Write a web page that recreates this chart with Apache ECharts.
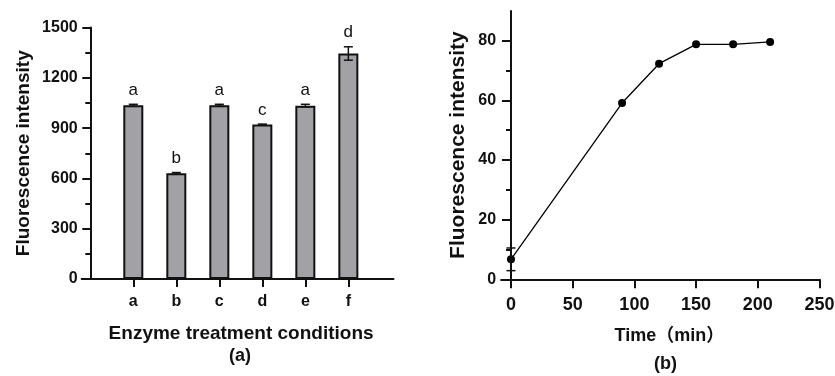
<!DOCTYPE html>
<html lang="en">
<head>
<meta charset="UTF-8">
<title>Fluorescence intensity</title>
<script src="https://cdn.jsdelivr.net/npm/echarts@6/dist/echarts.min.js"></script>
<style>
  html, body { margin: 0; padding: 0; background: #fff; }
  #chart { width: 835px; height: 376px; }
</style>
</head>
<body>
<div id="chart"></div>
<script>
// (a) enzyme treatment conditions
var conditions = ['a', 'b', 'c', 'd', 'e', 'f'];
var intensityA = [1036, 630, 1036, 921, 1034, 1345];
var errA = [6, 5, 6, 3, 8, 40];
var letters = ['a', 'b', 'a', 'c', 'a', 'd'];
var yTicksA = [0, 300, 600, 900, 1200, 1500];

// (b) time course
var timeMin = [0, 90, 120, 150, 180, 210];
var intensityB = [6.7, 59.1, 72.3, 78.8, 78.8, 79.6];
var errB = [3.8, 0, 0, 0, 0, 0];
var xTicksB = [0, 50, 100, 150, 200, 250];
var yTicksB = [0, 20, 40, 60, 80];
var yMinorB = [10, 30, 50, 70];

var FONT = "'Liberation Sans', Arial, 'Noto Sans CJK SC', sans-serif";
var INK = '#111';

var chart = echarts.init(document.getElementById('chart'));

// layout of the two panels
var gA = { left: 81.7, top: 27.5, width: 311.8, height: 251.5 };
var gB = { left: 501.1, top: 10.9, width: 318.4, height: 268.4 };
var xMinB = -8, xMaxB = 250;
var shiftB = -(0 - xMinB) * gB.width / (xMaxB - xMinB);

var barData = [], errDataA = [];
for (var i = 0; i < conditions.length; i++) {
  barData.push([i + 1, intensityA[i]]);
  errDataA.push([i + 1, intensityA[i], errA[i]]);
}
var lineData = [], errDataB = [];
for (var j = 0; j < timeMin.length; j++) {
  lineData.push([timeMin[j], intensityB[j]]);
  if (errB[j] > 0) errDataB.push([timeMin[j], intensityB[j], errB[j]]);
}

function errBar(withLetter, cap) {
  return function (params, api) {
    var x = api.value(0), y = api.value(1), e = api.value(2);
    var hi = api.coord([x, y + e]);
    var lo = api.coord([x, y - e]);
    var st = { stroke: INK, lineWidth: 1.5 };
    var kids = [];
    if (e > 0) {
      kids.push({ type: 'line', shape: { x1: hi[0], y1: hi[1], x2: lo[0], y2: lo[1] }, style: st });
      kids.push({ type: 'line', shape: { x1: hi[0] - cap, y1: hi[1], x2: hi[0] + cap, y2: hi[1] }, style: st });
      kids.push({ type: 'line', shape: { x1: lo[0] - cap, y1: lo[1], x2: lo[0] + cap, y2: lo[1] }, style: st });
    }
    if (withLetter) {
      kids.push({
        type: 'text',
        x: hi[0], y: hi[1] - 14,
        style: {
          text: letters[params.dataIndex], fill: INK,
          font: 'normal 17px ' + FONT, align: 'center', verticalAlign: 'middle'
        }
      });
    }
    return { type: 'group', children: kids };
  };
}

var nameStyle = function (size, pad) {
  return { fontFamily: FONT, fontWeight: 'bold', fontSize: size, color: INK, padding: pad || 0 };
};
var lineStyle = { color: INK, width: 2 };
var plain = function (v) { return String(v); };

var option = {
  animation: false,
  backgroundColor: '#fff',
  title: [
    { text: '(a)', left: 240, top: 347, textAlign: 'center', padding: 0,
      textStyle: nameStyle(18) },
    { text: '(b)', left: 665.5, top: 355, textAlign: 'center', padding: 0,
      textStyle: nameStyle(18) }
  ],
  grid: [
    { left: gA.left, top: gA.top, width: gA.width, height: gA.height, outerBoundsMode: 'none', containLabel: false },
    { left: gB.left, top: gB.top, width: gB.width, height: gB.height, outerBoundsMode: 'none', containLabel: false }
  ],
  xAxis: [
    {
      gridIndex: 0, type: 'value', min: -0.2, max: 7.05,
      name: 'Enzyme treatment conditions', nameLocation: 'middle', nameGap: 45,
      nameMoveOverlap: false,
      nameTextStyle: nameStyle(19, [0, 0, 0, 7]),
      axisLine: { show: true, onZero: true, lineStyle: lineStyle },
      axisTick: { show: true, customValues: [1, 2, 3, 4, 5, 6], length: 8, lineStyle: lineStyle },
      axisLabel: {
        customValues: [1, 2, 3, 4, 5, 6], margin: 15,
        formatter: function (v) { return conditions[Math.round(v) - 1]; },
        fontFamily: FONT, fontWeight: 'bold', fontSize: 16, color: INK
      },
      splitLine: { show: false }
    },
    {
      gridIndex: 1, type: 'value', min: xMinB, max: xMaxB,
      name: 'Time（min）', nameLocation: 'middle', nameGap: 48,
      nameMoveOverlap: false,
      nameTextStyle: nameStyle(18, [0, 0, 0, 18]),
      axisLine: { show: true, onZero: true, lineStyle: lineStyle },
      axisTick: { show: true, customValues: xTicksB, length: 9, lineStyle: lineStyle },
      axisLabel: {
        customValues: xTicksB, margin: 17, formatter: plain,
        fontFamily: FONT, fontWeight: 'bold', fontSize: 18, color: INK
      },
      splitLine: { show: false }
    }
  ],
  yAxis: [
    {
      gridIndex: 0, type: 'value', min: 0, max: 1500, interval: 300,
      name: 'Fluorescence intensity', nameLocation: 'middle', nameGap: 48,
      nameMoveOverlap: false,
      nameTextStyle: nameStyle(19),
      axisLine: { show: true, onZero: true, lineStyle: lineStyle },
      axisTick: { show: true, customValues: yTicksA, length: 8, lineStyle: lineStyle },
      minorTick: { show: true, splitNumber: 2, length: 5, lineStyle: lineStyle },
      axisLabel: {
        customValues: yTicksA, margin: 4, formatter: plain,
        fontFamily: FONT, fontWeight: 'bold', fontSize: 16, color: INK
      },
      splitLine: { show: false }, minorSplitLine: { show: false }
    },
    {
      gridIndex: 1, type: 'value', min: 0, max: 90, interval: 20,
      name: 'Fluorescence intensity', nameLocation: 'middle', nameGap: 32,
      nameMoveOverlap: false,
      nameTextStyle: nameStyle(21),
      axisLine: { show: true, onZero: true, lineStyle: lineStyle },
      axisTick: { show: true, customValues: yTicksB, length: 9, lineStyle: lineStyle },
      axisLabel: {
        customValues: yTicksB, margin: 5, formatter: plain,
        fontFamily: FONT, fontWeight: 'bold', fontSize: 16, color: INK
      },
      splitLine: { show: false }
    },
    {
      // short in-between ticks of panel (b)
      gridIndex: 1, type: 'value', min: 0, max: 90, position: 'left', offset: shiftB,
      axisLine: { show: false, onZero: false },
      axisTick: { show: true, customValues: yMinorB, length: 5, lineStyle: lineStyle },
      axisLabel: { show: false },
      splitLine: { show: false }
    }
  ],
  series: [
    {
      type: 'bar', xAxisIndex: 0, yAxisIndex: 0, data: barData, barWidth: 20,
      itemStyle: { color: '#a2a2a6', borderColor: INK, borderWidth: 2 }
    },
    {
      type: 'custom', xAxisIndex: 0, yAxisIndex: 0, data: errDataA, z: 5,
      renderItem: errBar(true, 4.5)
    },
    {
      type: 'line', xAxisIndex: 1, yAxisIndex: 1, data: lineData, z: 4,
      symbol: 'circle', symbolSize: 8,
      itemStyle: { color: '#000' }, lineStyle: { color: '#000', width: 1.3 }
    },
    {
      type: 'custom', xAxisIndex: 1, yAxisIndex: 1, data: errDataB, z: 5,
      renderItem: errBar(false, 4.5)
    }
  ]
};

chart.setOption(option);
</script>
</body>
</html>
